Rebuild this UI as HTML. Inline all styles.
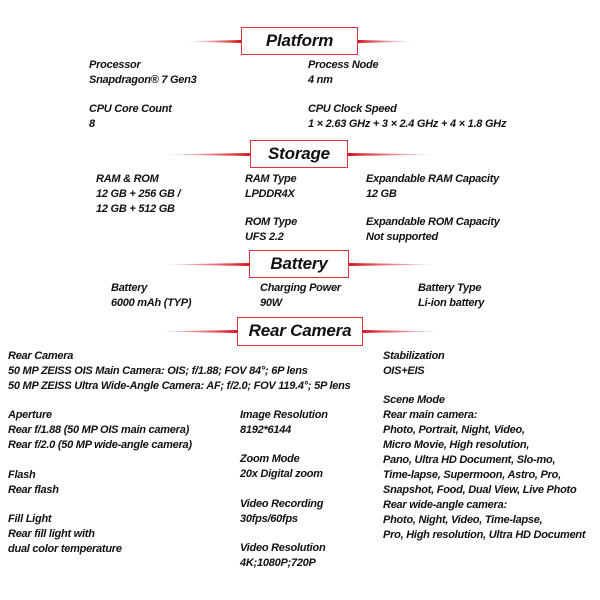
<!DOCTYPE html>
<html><head><style>
body{margin:0;width:600px;height:600px;background:#fff;position:relative;overflow:hidden;font-family:"Liberation Sans",sans-serif;}
.t{position:absolute;font-size:11px;font-weight:bold;font-style:italic;line-height:15px;letter-spacing:-0.25px;color:#111;white-space:nowrap;}
.h{position:absolute;border:1px solid #d8323c;background:#fff;font-weight:bold;font-style:italic;font-size:17px;color:#111;text-align:center;box-sizing:border-box;line-height:26px;letter-spacing:-0.2px}
.l{position:absolute;height:3px;}
.ll{background:linear-gradient(to right,rgba(220,20,30,0),#d8141e);clip-path:polygon(0 50%,100% 0,100% 100%);}
.lr{background:linear-gradient(to left,rgba(220,20,30,0),#d8141e);clip-path:polygon(0 0,100% 50%,0 100%);}
</style></head><body>
<div class="l ll" style="left:185px;top:40px;width:56px"></div>
<div class="l lr" style="left:358px;top:40px;width:57px"></div>
<div class="h" style="left:241px;top:27px;width:117px;height:28px">Platform</div>

<div class="l ll" style="left:160px;top:153px;width:90px"></div>
<div class="l lr" style="left:348px;top:153px;width:92px"></div>
<div class="h" style="left:250px;top:140px;width:98px;height:28px">Storage</div>

<div class="l ll" style="left:160px;top:263px;width:89px"></div>
<div class="l lr" style="left:349px;top:263px;width:91px"></div>
<div class="h" style="left:249px;top:250px;width:100px;height:28px">Battery</div>

<div class="l ll" style="left:155px;top:330px;width:82px"></div>
<div class="l lr" style="left:363px;top:330px;width:82px"></div>
<div class="h" style="left:237px;top:317px;width:126px;height:29px">Rear Camera</div>

<div class="t" style="left:89px;top:58px">Processor<br>Snapdragon® 7 Gen3</div>
<div class="t" style="left:89px;top:102px">CPU Core Count<br>8</div>
<div class="t" style="left:308px;top:58px">Process Node<br>4 nm</div>
<div class="t" style="left:308px;top:102px">CPU Clock Speed<br>1 × 2.63 GHz + 3 × 2.4 GHz + 4 × 1.8 GHz</div>

<div class="t" style="left:96px;top:172px">RAM &amp; ROM<br>12 GB + 256 GB /<br>12 GB + 512 GB</div>
<div class="t" style="left:245px;top:172px">RAM Type<br>LPDDR4X</div>
<div class="t" style="left:245px;top:215px">ROM Type<br>UFS 2.2</div>
<div class="t" style="left:366px;top:172px">Expandable RAM Capacity<br>12 GB</div>
<div class="t" style="left:366px;top:215px">Expandable ROM Capacity<br>Not supported</div>

<div class="t" style="left:111px;top:281px">Battery<br>6000 mAh (TYP)</div>
<div class="t" style="left:260px;top:281px">Charging Power<br>90W</div>
<div class="t" style="left:418px;top:281px">Battery Type<br>Li-ion battery</div>

<div class="t" style="left:8px;top:349px">Rear Camera<br>50 MP ZEISS OIS Main Camera: OIS; f/1.88; FOV 84°; 6P lens<br>50 MP ZEISS Ultra Wide-Angle Camera: AF; f/2.0; FOV 119.4°; 5P lens</div>
<div class="t" style="left:8px;top:408px">Aperture<br>Rear f/1.88 (50 MP OIS main camera)<br>Rear f/2.0 (50 MP wide-angle camera)</div>
<div class="t" style="left:8px;top:468px">Flash<br>Rear flash</div>
<div class="t" style="left:8px;top:512px">Fill Light<br>Rear fill light with<br>dual color temperature</div>
<div class="t" style="left:240px;top:408px">Image Resolution<br>8192*6144</div>
<div class="t" style="left:240px;top:452px">Zoom Mode<br>20x Digital zoom</div>
<div class="t" style="left:240px;top:497px">Video Recording<br>30fps/60fps</div>
<div class="t" style="left:240px;top:541px">Video Resolution<br>4K;1080P;720P</div>
<div class="t" style="left:383px;top:349px">Stabilization<br>OIS+EIS</div>
<div class="t" style="left:383px;top:393px">Scene Mode<br>Rear main camera:<br>Photo, Portrait, Night, Video,<br>Micro Movie, High resolution,<br>Pano, Ultra HD Document, Slo-mo,<br>Time-lapse, Supermoon, Astro, Pro,<br>Snapshot, Food, Dual View, Live Photo<br>Rear wide-angle camera:<br>Photo, Night, Video, Time-lapse,<br>Pro, High resolution, Ultra HD Document</div>
</body></html>
